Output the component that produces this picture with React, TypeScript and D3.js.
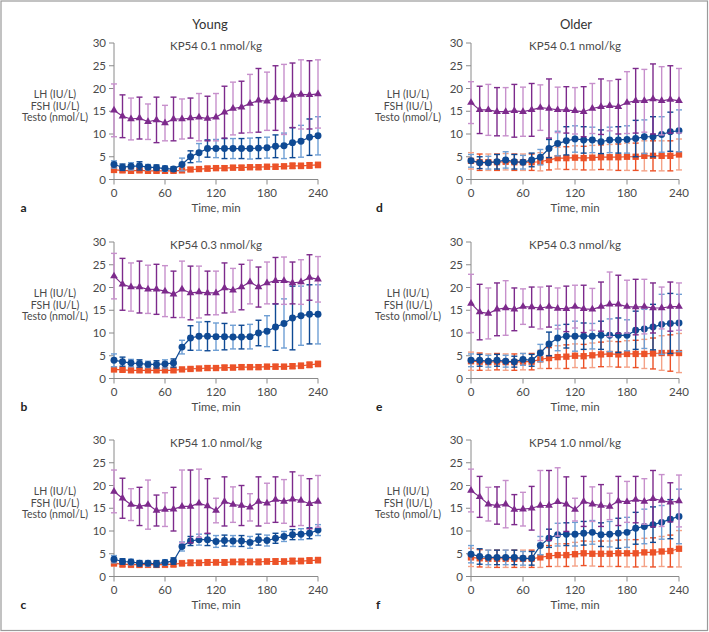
import * as d3 from 'd3';

// sampling times (min)
const TIMES = [0, 10, 20, 30, 40, 50, 60, 70, 80, 90, 100, 110, 120, 130, 140, 150, 160, 170, 180, 190, 200, 210, 220, 230, 240];
const X_TICKS = [0, 60, 120, 180, 240];
const Y_TICKS = [0, 5, 10, 15, 20, 25, 30];
const GROUPS = ['Young', 'Older'];
const DOSES = ['KP54 0.1 nmol/kg', 'KP54 0.3 nmol/kg', 'KP54 1.0 nmol/kg'];
const Y_LABELS = ['LH (IU/L)', 'FSH (IU/L)', 'Testo (nmol/L)'];

// a – young, 0.1
const aLH = [15.2, 13.9, 13.3, 13.5, 12.7, 13.1, 12.4, 13.3, 13.3, 13.5, 13.7, 13.4, 13.7, 14.8, 15.6, 15.9, 16.7, 17.4, 17.2, 17.9, 17.6, 18.5, 18.7, 18.6, 18.8];
const aLHErr = [5.8, 4.7, 4.6, 4.6, 3.9, 5.0, 3.9, 4.8, 4.4, 4.4, 5.2, 4.9, 5.2, 5.7, 5.8, 5.7, 6.4, 7.0, 6.4, 7.1, 7.7, 7.1, 7.6, 7.5, 7.5];
const aFSH = [3.3, 2.7, 2.9, 3.0, 2.7, 2.6, 2.4, 2.3, 3.3, 5.0, 5.9, 6.8, 6.8, 6.8, 6.8, 6.8, 6.8, 6.9, 7.0, 7.3, 7.4, 8.1, 8.4, 9.3, 9.6];
const aFSHErr = [0.8, 0.7, 0.8, 0.9, 0.6, 0.6, 0.6, 0.5, 1.4, 1.3, 2.0, 1.9, 2.0, 2.2, 2.2, 2.2, 2.3, 2.3, 2.3, 2.5, 2.8, 3.3, 3.5, 4.0, 4.2];
const aTesto = [2.1, 2.0, 1.9, 2.0, 1.9, 1.9, 1.9, 1.9, 2.0, 2.2, 2.3, 2.4, 2.5, 2.5, 2.6, 2.6, 2.7, 2.7, 2.8, 2.8, 2.9, 3.0, 3.0, 3.1, 3.2];
const aTestoErr = [0.5, 0.4, 0.4, 0.4, 0.4, 0.4, 0.4, 0.4, 0.4, 0.4, 0.5, 0.5, 0.5, 0.5, 0.5, 0.5, 0.5, 0.5, 0.5, 0.5, 0.5, 0.6, 0.6, 0.6, 0.6];

// b – young, 0.3
const bLH = [22.5, 20.7, 20.1, 20.1, 19.6, 19.6, 19.2, 18.5, 19.6, 18.8, 19.0, 18.8, 18.8, 19.9, 19.4, 20.1, 21.2, 20.1, 21.0, 21.5, 21.5, 21.0, 21.2, 22.2, 21.8];
const bLHErr = [5.0, 5.7, 5.3, 5.7, 5.3, 5.5, 5.6, 5.1, 6.2, 5.9, 5.7, 4.8, 4.8, 5.5, 4.8, 5.0, 4.8, 4.4, 4.6, 5.1, 5.2, 4.6, 4.9, 5.0, 5.0];
const bFSH = [4.0, 3.7, 3.4, 3.3, 3.1, 3.1, 3.2, 3.4, 6.9, 8.9, 9.3, 9.3, 9.2, 9.2, 9.1, 9.1, 9.2, 10.0, 10.4, 11.3, 12.1, 13.3, 13.8, 14.1, 14.1];
const bFSHErr = [1.4, 1.0, 0.8, 0.8, 0.7, 0.8, 0.9, 0.9, 1.5, 2.7, 3.1, 3.2, 3.0, 2.9, 2.6, 2.6, 2.7, 2.8, 3.4, 5.1, 5.4, 7.0, 6.5, 6.5, 6.5];
const bTesto = [2.0, 1.9, 1.8, 1.8, 1.8, 1.8, 1.8, 1.8, 2.0, 2.1, 2.2, 2.3, 2.3, 2.4, 2.4, 2.5, 2.5, 2.5, 2.6, 2.6, 2.6, 2.7, 2.8, 3.0, 3.2];
const bTestoErr = [0.5, 0.4, 0.4, 0.4, 0.4, 0.4, 0.4, 0.4, 0.4, 0.4, 0.4, 0.5, 0.5, 0.5, 0.5, 0.5, 0.5, 0.5, 0.5, 0.5, 0.5, 0.5, 0.6, 0.6, 0.6];

// c – young, 1.0
const cLH = [18.7, 17.2, 15.8, 15.4, 15.8, 14.5, 14.7, 14.8, 15.4, 15.4, 16.1, 15.5, 14.5, 16.5, 15.8, 15.6, 15.2, 16.5, 16.1, 16.9, 16.5, 17.0, 16.7, 16.0, 16.5];
const cLHErr = [4.7, 4.4, 3.5, 4.2, 5.4, 3.4, 3.7, 4.8, 8.0, 8.0, 7.5, 6.0, 2.7, 5.4, 3.9, 4.4, 3.0, 5.4, 4.4, 5.0, 4.8, 6.0, 5.5, 5.5, 5.7];
const cFSH = [3.8, 3.3, 3.2, 2.9, 2.9, 2.8, 3.1, 3.4, 6.6, 7.8, 8.1, 8.1, 7.7, 7.9, 7.8, 7.8, 7.5, 8.1, 7.9, 8.4, 8.8, 9.2, 9.3, 9.5, 10.2];
const cFSHErr = [0.8, 0.6, 0.6, 0.6, 0.6, 0.7, 0.6, 0.7, 1.0, 1.0, 1.2, 1.3, 1.3, 1.2, 1.2, 1.2, 1.3, 1.2, 1.2, 1.1, 1.1, 1.1, 1.2, 1.2, 1.2];
const cTesto = [2.9, 2.7, 2.6, 2.6, 2.6, 2.6, 2.6, 2.7, 2.9, 3.0, 3.0, 3.1, 3.1, 3.1, 3.2, 3.2, 3.2, 3.2, 3.3, 3.3, 3.3, 3.4, 3.4, 3.5, 3.6];
const cTestoErr = [0.6, 0.6, 0.6, 0.6, 0.6, 0.6, 0.6, 0.6, 0.6, 0.6, 0.6, 0.6, 0.6, 0.6, 0.6, 0.6, 0.6, 0.6, 0.6, 0.6, 0.6, 0.6, 0.6, 0.6, 0.6];

// d – older, 0.1
const dLH = [16.9, 15.3, 15.3, 14.9, 14.9, 15.1, 14.9, 15.3, 15.8, 15.6, 15.3, 15.3, 15.1, 14.9, 15.6, 16.0, 16.2, 16.0, 16.9, 17.3, 17.3, 17.7, 17.3, 17.6, 17.3];
const dLHErr = [4.6, 5.2, 5.6, 5.3, 5.3, 5.8, 5.4, 5.8, 5.0, 6.5, 5.0, 5.1, 5.1, 5.5, 5.5, 6.1, 5.5, 6.0, 6.8, 7.1, 6.9, 7.7, 7.5, 7.4, 7.1];
const dFSH = [4.1, 3.7, 3.7, 3.9, 4.3, 3.9, 3.8, 4.3, 4.9, 6.8, 7.9, 8.5, 8.9, 8.7, 8.7, 8.3, 8.7, 8.7, 8.8, 9.0, 9.4, 9.4, 9.9, 10.5, 10.7];
const dFSHErr = [1.4, 1.3, 1.4, 1.6, 1.8, 1.6, 1.5, 1.5, 1.7, 2.0, 2.7, 3.1, 2.9, 2.9, 2.8, 2.6, 2.8, 2.9, 3.0, 4.0, 3.7, 4.4, 3.9, 4.3, 4.6];
const dTesto = [4.1, 3.8, 3.8, 3.8, 3.9, 3.8, 3.8, 3.8, 3.9, 4.3, 4.7, 4.7, 4.8, 4.7, 4.8, 4.9, 4.9, 4.9, 5.0, 5.0, 5.2, 5.2, 5.2, 5.2, 5.5];
const dTestoErr = [1.8, 1.8, 1.8, 1.8, 1.8, 1.8, 1.8, 1.8, 2.0, 2.2, 2.4, 2.5, 2.6, 2.6, 2.7, 2.7, 2.8, 2.9, 3.0, 3.0, 3.3, 3.3, 3.3, 3.3, 3.4];

// e – older, 0.3
const eLH = [16.5, 14.6, 14.3, 15.2, 15.5, 15.2, 15.8, 15.7, 15.5, 15.8, 15.4, 15.3, 15.8, 15.3, 15.2, 15.8, 16.3, 16.3, 15.8, 15.7, 15.8, 15.5, 15.5, 15.8, 15.8];
const eLHErr = [6.4, 6.1, 5.6, 5.8, 6.0, 4.7, 3.9, 4.4, 4.6, 4.5, 4.5, 5.0, 4.7, 5.2, 4.6, 5.4, 7.1, 6.4, 5.8, 6.1, 6.0, 5.5, 4.6, 5.4, 5.2];
const eFSH = [4.0, 4.0, 3.8, 4.0, 3.8, 3.7, 4.2, 4.0, 5.6, 7.6, 8.9, 9.3, 9.3, 9.3, 9.3, 9.5, 9.5, 9.5, 9.5, 10.6, 10.9, 11.3, 11.9, 12.1, 12.2];
const eFSHErr = [1.4, 1.3, 1.3, 1.3, 1.3, 1.2, 1.3, 1.3, 1.9, 2.6, 2.8, 2.6, 3.3, 2.9, 2.8, 3.1, 3.6, 3.8, 3.4, 4.2, 4.3, 5.0, 6.6, 6.6, 6.3];
const eTesto = [3.8, 3.7, 3.6, 3.7, 3.6, 3.6, 3.7, 3.7, 4.2, 4.5, 4.7, 4.8, 5.0, 4.9, 5.1, 5.3, 5.4, 5.3, 5.4, 5.4, 5.4, 5.5, 5.6, 5.6, 5.6];
const eTestoErr = [2.0, 1.9, 1.8, 1.8, 1.8, 1.8, 1.8, 1.8, 2.0, 2.3, 2.5, 2.6, 2.6, 2.6, 2.7, 2.7, 2.8, 2.8, 2.9, 3.0, 3.2, 3.4, 3.8, 4.0, 4.3];

// f – older, 1.0
const fLH = [18.9, 17.5, 15.9, 15.6, 15.9, 14.7, 14.8, 15.0, 15.6, 15.6, 16.4, 15.9, 14.7, 16.5, 15.9, 15.6, 15.4, 16.6, 16.4, 16.9, 16.5, 17.1, 16.7, 16.3, 16.6];
const fLHErr = [4.7, 4.5, 3.7, 4.1, 5.2, 3.3, 3.7, 4.8, 7.7, 7.7, 7.5, 6.0, 2.5, 5.5, 3.8, 4.6, 2.9, 5.4, 4.5, 5.1, 5.0, 6.2, 5.7, 4.3, 5.7];
const fFSH = [4.9, 4.4, 4.2, 4.2, 4.2, 4.2, 4.0, 4.0, 6.8, 8.4, 9.2, 9.3, 9.3, 9.5, 9.7, 9.2, 9.3, 9.5, 9.7, 10.6, 11.0, 11.4, 11.9, 12.6, 13.2];
const fFSHErr = [1.9, 1.7, 1.6, 1.6, 1.6, 1.6, 1.5, 1.5, 2.0, 2.0, 2.5, 2.5, 2.6, 2.6, 2.6, 2.6, 2.8, 3.3, 3.3, 3.5, 3.8, 3.9, 3.7, 4.3, 6.0];
const fTesto = [4.2, 4.0, 3.9, 3.9, 3.9, 3.9, 3.9, 3.9, 4.2, 4.5, 4.7, 4.7, 4.9, 5.1, 5.0, 5.0, 5.0, 5.1, 5.1, 5.1, 5.3, 5.3, 5.5, 5.6, 6.1];
const fTestoErr = [2.0, 1.9, 1.9, 1.9, 1.9, 1.9, 1.9, 1.9, 2.2, 2.3, 2.5, 2.5, 2.6, 2.7, 2.7, 2.8, 2.8, 2.9, 3.0, 3.0, 3.1, 3.2, 3.3, 3.5, 4.0];

const W = 709;
const H = 632;
const FONT = "Lato, 'Noto Sans', sans-serif";
const AXIS = '#8a8a8a';
const TXT = '#4a4a4a';

const COLS = [
  { x0: 114, x1: 318, labelX: 55 },
  { x0: 471, x1: 679, labelX: 408 },
];
const ROWS = [43, 242, 440]; // y of 30
const PH = 136.5;

const STYLE = {
  lh: { dark: '#7d2a8c', light: '#c790cc', symbol: d3.symbolTriangle, size: 26 },
  fsh: { dark: '#0f4a94', light: '#6f9fd4', symbol: d3.symbolCircle, size: 38 },
  testo: { dark: '#ec5228', light: '#f4a287', symbol: d3.symbolSquare, size: 40 },
};

type Series = { key: 'lh' | 'fsh' | 'testo'; mean: number[]; err: number[] };

const PANELS = [
  { letter: 'a', col: 0, row: 0, series: [{ key: 'testo', mean: aTesto, err: aTestoErr }, { key: 'fsh', mean: aFSH, err: aFSHErr }, { key: 'lh', mean: aLH, err: aLHErr }] },
  { letter: 'b', col: 0, row: 1, series: [{ key: 'testo', mean: bTesto, err: bTestoErr }, { key: 'fsh', mean: bFSH, err: bFSHErr }, { key: 'lh', mean: bLH, err: bLHErr }] },
  { letter: 'c', col: 0, row: 2, series: [{ key: 'testo', mean: cTesto, err: cTestoErr }, { key: 'fsh', mean: cFSH, err: cFSHErr }, { key: 'lh', mean: cLH, err: cLHErr }] },
  { letter: 'd', col: 1, row: 0, series: [{ key: 'testo', mean: dTesto, err: dTestoErr }, { key: 'fsh', mean: dFSH, err: dFSHErr }, { key: 'lh', mean: dLH, err: dLHErr }] },
  { letter: 'e', col: 1, row: 1, series: [{ key: 'testo', mean: eTesto, err: eTestoErr }, { key: 'fsh', mean: eFSH, err: eFSHErr }, { key: 'lh', mean: eLH, err: eLHErr }] },
  { letter: 'f', col: 1, row: 2, series: [{ key: 'testo', mean: fTesto, err: fTestoErr }, { key: 'fsh', mean: fFSH, err: fFSHErr }, { key: 'lh', mean: fLH, err: fLHErr }] },
] as { letter: string; col: number; row: number; series: Series[] }[];

function Panel({ letter, col, row, series }: { letter: string; col: number; row: number; series: Series[] }) {
  const { x0, x1, labelX } = COLS[col];
  const top = ROWS[row];
  const x = d3.scaleLinear().domain([0, 240]).range([x0, x1]);
  const y = d3.scaleLinear().domain([0, 30]).range([top + PH, top]);
  const line = d3.line<number>().x((_, i) => x(TIMES[i])).y((v) => y(v));
  const cx = (x0 + x1) / 2;

  return (
    <g>
      {/* y axis */}
      <line x1={x0} x2={x0} y1={y(0)} y2={y(30)} stroke={AXIS} />
      {Y_TICKS.map((t) => (
        <g key={t}>
          <line x1={x0 - 5} x2={x0} y1={y(t)} y2={y(t)} stroke={AXIS} />
          <text x={x0 - 8} y={y(t) + 4} textAnchor="end" fontSize={11.5} fill={TXT}>{t}</text>
        </g>
      ))}
      {/* x axis */}
      <line x1={x0} x2={x1} y1={y(0)} y2={y(0)} stroke={AXIS} />
      {X_TICKS.map((t) => (
        <g key={t}>
          <line x1={x(t)} x2={x(t)} y1={y(0)} y2={y(0) + 5} stroke={AXIS} />
          <text x={x(t)} y={y(0) + 17} textAnchor="middle" fontSize={11.5} fill={TXT}>{t}</text>
        </g>
      ))}
      <text x={cx} y={y(0) + 32} textAnchor="middle" fontSize={11.5} fill={TXT}>Time, min</text>
      <text x={cx} y={top + 7} textAnchor="middle" fontSize={11.5} fill={TXT}>{DOSES[row]}</text>
      <text x={col === 0 ? 20.5 : 376} y={y(0) + 32.5} fontSize={12} fontWeight="bold" fill="#222">{letter}</text>
      {Y_LABELS.map((l, i) => (
        <text key={l} x={labelX} y={top + 55 + i * 11.7} textAnchor="middle" fontSize={10.5} fill={TXT}>{l}</text>
      ))}

      {series.map((s) => {
        const st = STYLE[s.key];
        const sym = d3.symbol(st.symbol, st.size)();
        return (
          <g key={s.key}>
            {s.mean.map((m, i) => {
              const px = x(TIMES[i]);
              const c = i % 2 === 0 ? st.light : st.dark;
              return (
                <g key={i} stroke={c} strokeWidth={1.4}>
                  <line x1={px} x2={px} y1={y(m - s.err[i])} y2={y(m + s.err[i])} />
                  <line x1={px - 3} x2={px + 3} y1={y(m + s.err[i])} y2={y(m + s.err[i])} />
                  <line x1={px - 3} x2={px + 3} y1={y(m - s.err[i])} y2={y(m - s.err[i])} />
                </g>
              );
            })}
            <path d={line(s.mean) || ''} fill="none" stroke={st.dark} strokeWidth={1.2} />
            {s.mean.map((m, i) => (
              <path key={i} d={sym || ''} transform={`translate(${x(TIMES[i])},${y(m)})`} fill={st.dark} />
            ))}
          </g>
        );
      })}
    </g>
  );
}

export default function App() {
  return (
    <svg width={W} height={H} style={{ position: 'absolute', left: 0, top: 0, display: 'block', background: '#fff' }} fontFamily={FONT}>
      <rect x={1} y={1} width={W - 2.5} height={H - 2.5} fill="#fff" stroke="#9a9a9a" strokeWidth={1.2} />
      {GROUPS.map((g, i) => (
        <text key={g} x={i === 0 ? 210 : 576} y={29} textAnchor="middle" fontSize={13} fill="#333">{g}</text>
      ))}
      {PANELS.map((p) => (
        <Panel key={p.letter} {...p} />
      ))}
    </svg>
  );
}
